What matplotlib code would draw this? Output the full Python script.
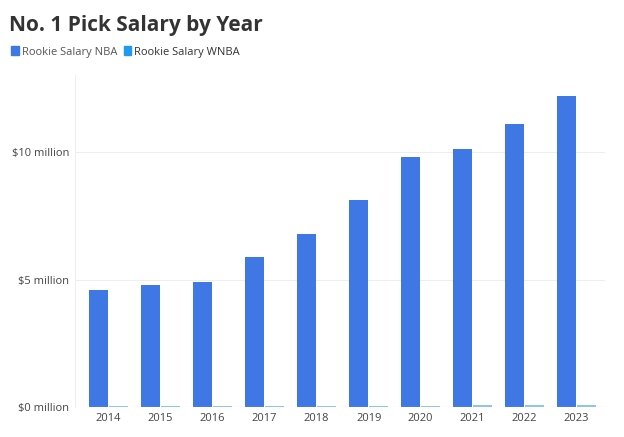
import matplotlib
matplotlib.use("Agg")
import matplotlib.pyplot as plt
import numpy as np

years = ["2014","2015","2016","2017","2018","2019","2020","2021","2022","2023"]
nba = [4.6, 4.8, 4.9, 5.9, 6.8, 8.1, 9.8, 10.1, 11.1, 12.2]
wnba = [0.05, 0.05, 0.05, 0.06, 0.06, 0.06, 0.06, 0.07, 0.07, 0.08]
yticks = [0, 5, 10]
ytick_labels = ["$0 million", "$5 million", "$10 million"]

plt.rcParams["font.family"] = "Open Sans"
fig = plt.figure(figsize=(6.24, 4.37), dpi=100)
ax = fig.add_axes([0.12, 0.068, 0.85, 0.76])
x = np.arange(len(years))
w = 0.36
ax.bar(x - 0.19, nba, w, color="#3f77e4", zorder=3)
ax.bar(x + 0.19, wnba, w, color="#8ec4ee", zorder=3)
ax.set_xticks(x)
ax.set_xticklabels(years, fontsize=8, color="#444444")
ax.set_yticks(yticks)
ax.set_yticklabels(ytick_labels, fontsize=8, color="#444444")
ax.set_ylim(0, 13)
ax.set_xlim(-0.65, 9.55)
ax.grid(axis="y", color="#eeeeee", zorder=0)
for s in ["top", "right", "bottom"]:
    ax.spines[s].set_visible(False)
ax.spines["left"].set_color("#eeeeee")
ax.tick_params(length=0, pad=4)
ax.axhline(0, color="#cccccc", lw=0.8, zorder=4)

fig.text(0.015, 0.93, "No. 1 Pick Salary by Year", fontsize=15, fontweight="bold", color="#333333")
fig.patches.append(plt.Rectangle((0.018, 0.873), 0.012, 0.022, transform=fig.transFigure, color="#3f77e4"))
fig.text(0.035, 0.874, "Rookie Salary NBA", fontsize=8, color="#555555")
fig.patches.append(plt.Rectangle((0.198, 0.873), 0.012, 0.022, transform=fig.transFigure, color="#1e9bf0"))
fig.text(0.215, 0.874, "Rookie Salary WNBA", fontsize=8, color="#333333")
fig.savefig("out.png", dpi=100)
